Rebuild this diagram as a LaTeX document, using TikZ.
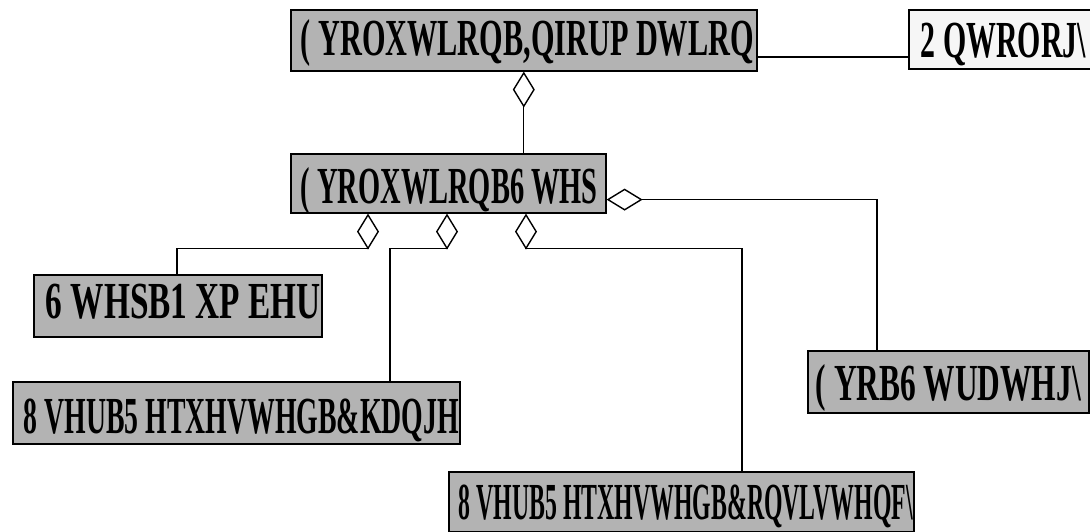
\documentclass[tikz,border=0pt]{standalone}
\usepackage{fontspec}
\setmainfont{Liberation Serif}
\usetikzlibrary{arrows.meta,calc}
\newcommand\lbl[4]{\makebox[#1pt][l]{\hspace{#2pt}\resizebox{#3pt}{\height}{\fontsize{52}{52}\selectfont\bfseries #4}}}
\definecolor{boxgray}{RGB}{179,179,179}
\definecolor{boxlight}{RGB}{246,246,246}
\tikzset{
  umlbox/.style={draw=black, fill=boxgray, line width=1.6pt, inner sep=0pt, anchor=north west},
  link/.style={draw=black, line width=1.2pt},
  agg/.style={link, {Diamond[open,length=36pt,width=22pt,line width=1.4pt]}-}
}
\begin{document}
\begin{tikzpicture}[x=1pt,y=-1pt]
\useasboundingbox (0,0) rectangle (1090,531);
\clip (0,0) rectangle (1090,531);
\fill[white] (0,0) rectangle (1090,531);
\node[umlbox, text height=46pt, text depth=15pt] (ei) at (290,9)
  {\lbl{466}{10}{453}{( YROXWLRQB,QIRUP DWLRQ}};
\node[umlbox, fill=boxlight, text height=48pt, text depth=11pt] (ont) at (908,9)
  {\lbl{190}{12}{165}{2 QWRORJ\textbackslash}};
\node[umlbox, text height=50pt, text depth=9pt] (es) at (290,153)
  {\lbl{315}{10}{297}{( YROXWLRQB6 WHS}};
\node[umlbox, text height=44pt, text depth=18pt] (sn) at (33,274)
  {\lbl{288}{12}{275}{6 WHSB1 XP EHU}};
\node[umlbox, text height=52pt, text depth=10pt] (urc) at (12,381)
  {\lbl{447}{11}{435}{8 VHUB5 HTXHVWHGB\&KDQJH}};
\node[umlbox, text height=48pt, text depth=12pt] (urcons) at (448,471)
  {\lbl{465}{10}{454}{8 VHUB5 HTXHVWHGB\&RQVLVWHQF\textbackslash}};
\node[umlbox, text height=50pt, text depth=12pt] (evs) at (807,350)
  {\lbl{281}{8}{265}{( YRB6 WUDWHJ\textbackslash}};

% Evolution_Information -- Ontology
\draw[link] (ei.east |- 0,57) -- (ont.west |- 0,57);
% Evolution_Information <>-- Evolution_Step
\draw[agg] (ei.south) -- (es.north -| ei.south);
% Evolution_Step <>-- Evo_Strategy
\draw[agg] ($(es.south east)+(0,-14)$) -| ($(evs.north west)+(70,0)$);
% Evolution_Step <>-- Step_Number
\draw[agg] ($(es.south west)+(78,0)$) -- ++(0,35) -| ($(sn.north west)+(144,0)$);
% Evolution_Step <>-- User_Requested_Change
\draw[agg] ($(es.south west)+(157,0)$) -- ++(0,35) -| ($(urc.north west)+(378,0)$);
% Evolution_Step <>-- User_Requested_Consistency
\draw[agg] ($(es.south west)+(236,0)$) -- ++(0,35) -| ($(urcons.north west)+(294,0)$);
\end{tikzpicture}
\end{document}
